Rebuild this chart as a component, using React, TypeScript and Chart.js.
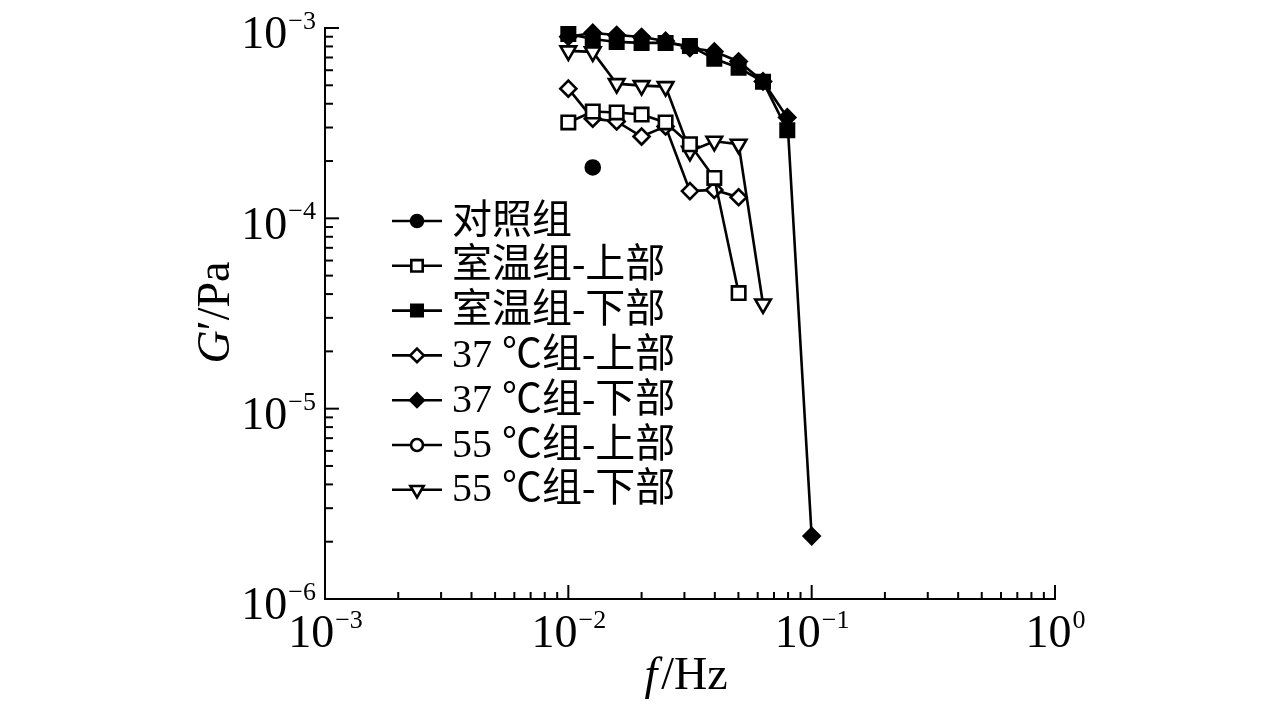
import React, { useEffect, useRef } from 'react';
import { Chart, registerables } from 'chart.js';

Chart.register(...registerables);

// frequencies (Hz), 10 points per decade starting at 0.01 Hz
const FREQ = [0.01, 0.0126, 0.0158, 0.02, 0.0251, 0.0316, 0.0398, 0.0501, 0.0631, 0.0794, 0.1];

const SERIES_NAMES = ['对照组', '室温组-上部', '室温组-下部', '37 ℃组-上部', '37 ℃组-下部', '55 ℃组-上部', '55 ℃组-下部'];

const controlX = [0.0126];
const controlY = [1.85e-4];
const rtUpperY = [3.19e-4, 3.64e-4, 3.6e-4, 3.51e-4, 3.19e-4, 2.45e-4, 1.63e-4, 4.05e-5];
const rtLowerY = [9.3e-4, 8.76e-4, 8.45e-4, 8.35e-4, 8.35e-4, 8.05e-4, 6.89e-4, 6.18e-4, 5.22e-4, 2.9e-4];
const c37UpperY = [4.8e-4, 3.34e-4, 3.23e-4, 2.69e-4, 3.04e-4, 1.39e-4, 1.41e-4, 1.29e-4];
const c37LowerY = [9.0e-4, 9.42e-4, 9.19e-4, 8.97e-4, 8.55e-4, 7.86e-4, 7.52e-4, 6.67e-4, 5.24e-4, 3.39e-4, 2.14e-6];
const c55UpperY: number[] = [];
const c55LowerY = [7.58e-4, 7.49e-4, 5.1e-4, 4.98e-4, 4.92e-4, 2.25e-4, 2.54e-4, 2.45e-4, 3.55e-5];

const X_DECADES = [-3, -2, -1, 0];
const Y_DECADES = [-6, -5, -4, -3];
const MINOR_MANTISSAS = [2, 3, 4, 5, 6, 7, 8, 9];

const MAIN_FONT = 46;
const SUP_FONT = 26;
const SERIF = '"Liberation Serif", "Times New Roman", serif';
const LEGEND_FONT = '40px "Liberation Serif", "Noto Sans CJK SC", serif';

function pts(xs: number[], ys: number[]) {
  return ys.map((y, i) => ({ x: xs[i], y }));
}

function drawMarker(ctx: CanvasRenderingContext2D, style: string, rot: number, x: number, y: number, r: number, fill: string, bw: number) {
  ctx.save();
  ctx.beginPath();
  if (style === 'circle') {
    ctx.arc(x, y, r, 0, Math.PI * 2);
  } else if (style === 'rect') {
    const s = r * Math.SQRT1_2;
    ctx.rect(x - s, y - s, 2 * s, 2 * s);
  } else if (style === 'rectRot') {
    ctx.moveTo(x - r, y);
    ctx.lineTo(x, y - r);
    ctx.lineTo(x + r, y);
    ctx.lineTo(x, y + r);
    ctx.closePath();
  } else if (style === 'triangle') {
    let a = (rot * Math.PI) / 180;
    ctx.moveTo(x + Math.sin(a) * r, y - Math.cos(a) * r);
    a += (2 * Math.PI) / 3;
    ctx.lineTo(x + Math.sin(a) * r, y - Math.cos(a) * r);
    a += (2 * Math.PI) / 3;
    ctx.lineTo(x + Math.sin(a) * r, y - Math.cos(a) * r);
    ctx.closePath();
  }
  ctx.fillStyle = fill;
  ctx.fill();
  ctx.lineWidth = bw;
  ctx.strokeStyle = '#000';
  ctx.stroke();
  ctx.restore();
}

function drawPow(ctx: CanvasRenderingContext2D, exp: number, x: number, baseline: number, align: 'right' | 'center') {
  const base = '10';
  const sup = exp < 0 ? '\u2212' + Math.abs(exp) : String(exp);
  const mainF = `${MAIN_FONT}px ${SERIF}`;
  const supF = `${SUP_FONT}px ${SERIF}`;
  ctx.font = mainF;
  const wb = ctx.measureText(base).width;
  ctx.font = supF;
  const ws = ctx.measureText(sup).width;
  const total = wb + ws;
  const x0 = align === 'right' ? x - total : x - total / 2;
  ctx.textAlign = 'left';
  ctx.textBaseline = 'alphabetic';
  ctx.fillStyle = '#000';
  ctx.font = mainF;
  ctx.fillText(base, x0, baseline);
  ctx.font = supF;
  ctx.fillText(sup, x0 + wb + 1, baseline - MAIN_FONT * 0.42);
}

const decorPlugin = {
  id: 'decor',
  beforeDraw(chart: any) {
    const { ctx, width, height } = chart;
    ctx.save();
    ctx.fillStyle = '#fff';
    ctx.fillRect(0, 0, width, height);
    ctx.restore();
  },
  afterDraw(chart: any) {
    const ctx: CanvasRenderingContext2D = chart.ctx;
    const area = chart.chartArea;
    const xs = chart.scales.x;
    const ys = chart.scales.y;
    ctx.save();
    ctx.strokeStyle = '#000';
    ctx.lineWidth = 2;
    ctx.lineCap = 'butt';
    // axis lines
    ctx.beginPath();
    ctx.moveTo(area.left, area.top - 1);
    ctx.lineTo(area.left, area.bottom);
    ctx.lineTo(area.right + 1, area.bottom);
    ctx.stroke();

    // y ticks (inside)
    Y_DECADES.forEach((d) => {
      const major = Math.pow(10, d);
      const py = ys.getPixelForValue(major);
      ctx.beginPath();
      ctx.moveTo(area.left, py);
      ctx.lineTo(area.left + 14, py);
      ctx.stroke();
      drawPow(ctx, d, area.left - 10, py + 5 + MAIN_FONT * 0.33, 'right');
      if (d < Y_DECADES[Y_DECADES.length - 1]) {
        MINOR_MANTISSAS.forEach((m) => {
          const p = ys.getPixelForValue(m * major);
          ctx.beginPath();
          ctx.moveTo(area.left, p);
          ctx.lineTo(area.left + 8, p);
          ctx.stroke();
        });
      }
    });

    // x ticks (inside)
    X_DECADES.forEach((d) => {
      const major = Math.pow(10, d);
      const px = xs.getPixelForValue(major);
      ctx.beginPath();
      ctx.moveTo(px, area.bottom);
      ctx.lineTo(px, area.bottom - 14);
      ctx.stroke();
      drawPow(ctx, d, px, area.bottom + 18 + MAIN_FONT * 0.66, 'center');
      if (d < X_DECADES[X_DECADES.length - 1]) {
        MINOR_MANTISSAS.forEach((m) => {
          const p = xs.getPixelForValue(m * major);
          ctx.beginPath();
          ctx.moveTo(p, area.bottom);
          ctx.lineTo(p, area.bottom - 7);
          ctx.stroke();
        });
      }
    });

    // x title: f/Hz
    {
      const it = `italic ${MAIN_FONT}px ${SERIF}`;
      const rg = `${MAIN_FONT}px ${SERIF}`;
      ctx.font = it;
      const w1 = ctx.measureText('f').width + 4;
      ctx.font = rg;
      const w2 = ctx.measureText('/Hz').width;
      const cx = (area.left + area.right) / 2 - 4;
      const x0 = cx - (w1 + w2) / 2;
      const by = area.bottom + 90;
      ctx.textAlign = 'left';
      ctx.textBaseline = 'alphabetic';
      ctx.fillStyle = '#000';
      ctx.font = it;
      ctx.fillText('f', x0, by);
      ctx.font = rg;
      ctx.fillText('/Hz', x0 + w1, by);
    }

    // y title: G′/Pa (rotated)
    {
      ctx.save();
      ctx.translate(area.left - 108, (area.top + area.bottom) / 2 - 1);
      ctx.rotate(-Math.PI / 2);
      const it = `italic ${MAIN_FONT}px ${SERIF}`;
      const rg = `${MAIN_FONT}px ${SERIF}`;
      ctx.font = it;
      const w1 = ctx.measureText('G').width;
      ctx.font = rg;
      const w2 = ctx.measureText('\u2032/Pa').width;
      const x0 = -(w1 + w2) / 2;
      ctx.textAlign = 'left';
      ctx.textBaseline = 'middle';
      ctx.fillStyle = '#000';
      ctx.font = it;
      ctx.fillText('G', x0, 0);
      ctx.font = rg;
      ctx.fillText('\u2032/Pa', x0 + w1, 0);
      ctx.restore();
    }

    // legend
    const lx0 = 392;
    const lx1 = 442;
    const ly0 = 221;
    const step = 44.8;
    chart.data.datasets.forEach((ds: any, i: number) => {
      const y = ly0 + i * step;
      ctx.beginPath();
      ctx.lineWidth = 2.6;
      ctx.moveTo(lx0, y);
      ctx.lineTo(lx1, y);
      ctx.stroke();
      drawMarker(ctx, ds.pointStyle, ds.pointRotation || 0, (lx0 + lx1) / 2, y, ds.pointRadius * 0.85, ds.pointBackgroundColor, ds.pointBorderWidth);
      ctx.font = LEGEND_FONT;
      ctx.fillStyle = '#000';
      ctx.textAlign = 'left';
      ctx.textBaseline = 'middle';
      ctx.fillText(ds.label, 452, y + 1);
    });
    ctx.restore();
  },
};

function mk(label: string, data: any[], style: string, filled: boolean, radius: number, rotation = 0) {
  return {
    label,
    data,
    showLine: true,
    borderColor: '#000',
    borderWidth: 2.6,
    pointStyle: style,
    pointRotation: rotation,
    pointRadius: radius,
    pointHoverRadius: radius,
    pointBackgroundColor: filled ? '#000' : '#fff',
    pointBorderColor: '#000',
    pointBorderWidth: 2.6,
    tension: 0,
    clip: false as any,
  };
}

export default function App() {
  const ref = useRef<HTMLCanvasElement | null>(null);
  useEffect(() => {
    if (!ref.current) return;
    const chart = new Chart(ref.current, {
      type: 'scatter',
      data: {
        datasets: [
          mk(SERIES_NAMES[0], pts(controlX, controlY), 'circle', true, 7),
          mk(SERIES_NAMES[1], pts(FREQ, rtUpperY), 'rect', false, 9.5),
          mk(SERIES_NAMES[2], pts(FREQ, rtLowerY), 'rect', true, 9.5),
          mk(SERIES_NAMES[3], pts(FREQ, c37UpperY), 'rectRot', false, 8),
          mk(SERIES_NAMES[4], pts(FREQ, c37LowerY), 'rectRot', true, 8),
          mk(SERIES_NAMES[5], pts(FREQ, c55UpperY), 'circle', false, 7),
          mk(SERIES_NAMES[6], pts(FREQ, c55LowerY), 'triangle', false, 9, 180),
        ] as any,
      },
      options: {
        animation: false,
        responsive: true,
        maintainAspectRatio: false,
        layout: { padding: { left: 325, right: 221, top: 28, bottom: 108 } },
        plugins: { legend: { display: false }, tooltip: { enabled: false } },
        events: [],
        scales: {
          x: { type: 'logarithmic', min: 1e-3, max: 1, display: false },
          y: { type: 'logarithmic', min: 1e-6, max: 1e-3, display: false },
        },
      },
      plugins: [decorPlugin],
    });
    return () => chart.destroy();
  }, []);
  return (
    <div style={{ position: 'fixed', left: 0, top: 0, width: 1276, height: 707, background: '#fff' }}>
      <canvas ref={ref} />
    </div>
  );
}
